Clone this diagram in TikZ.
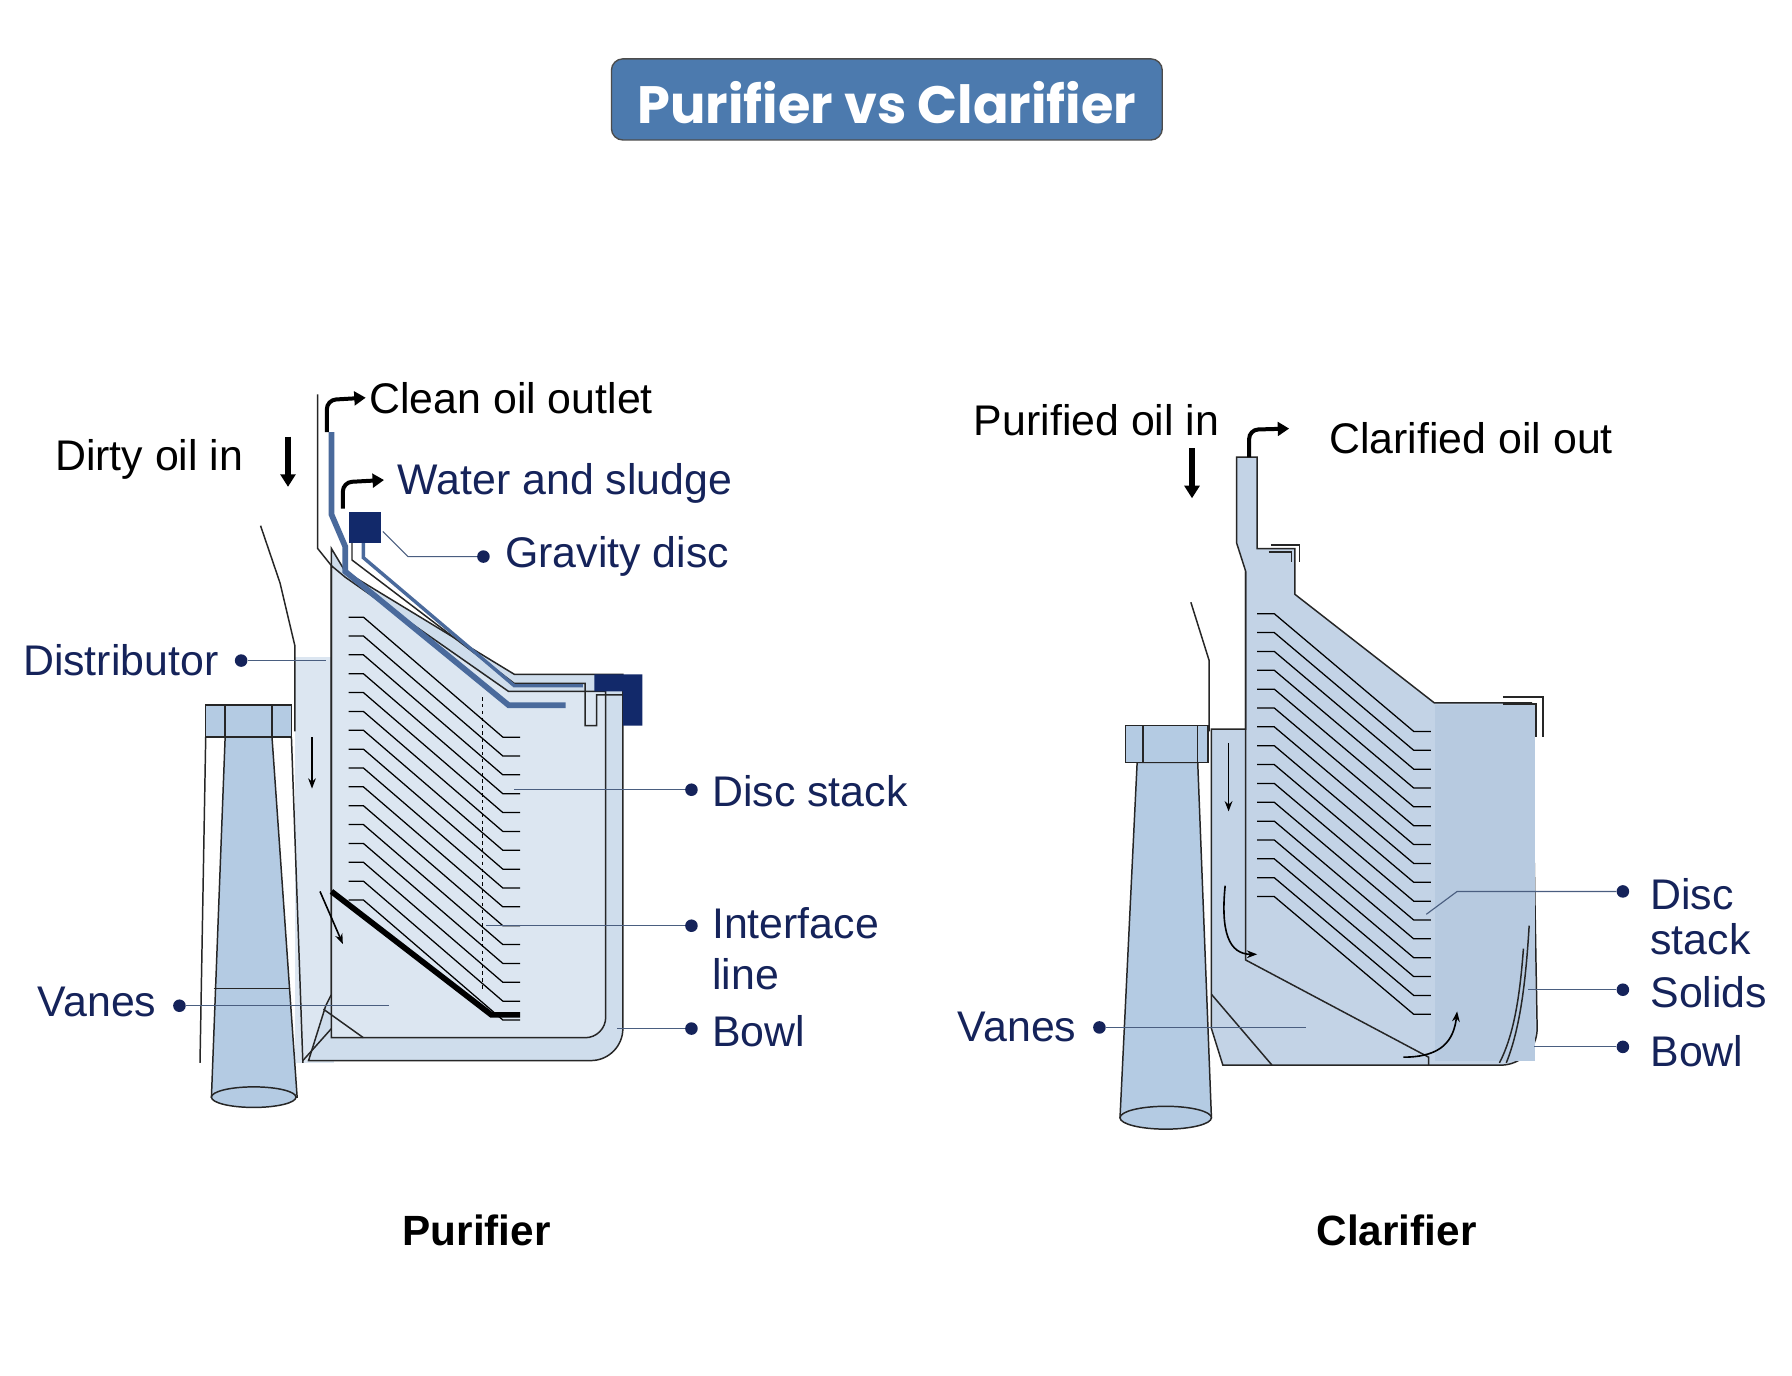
\documentclass[tikz,border=0pt]{standalone}
\usepackage{fontspec}
\setmainfont{Liberation Sans}
\newfontfamily\ttlfont{Poppins}[UprightFont=* Bold]
\usetikzlibrary{arrows.meta}
\definecolor{navy}{HTML}{15235A}
\definecolor{fillA}{HTML}{CFDDEC}
\definecolor{fillB}{HTML}{DCE6F1}
\definecolor{fillC}{HTML}{B4CBE3}
\definecolor{fillD}{HTML}{C3D3E6}
\definecolor{fillE}{HTML}{B7CAE0}
\definecolor{coverblue}{HTML}{4A6A9C}
\definecolor{dnavy}{HTML}{12296A}
\definecolor{titleblue}{HTML}{4C7AAE}
\definecolor{lead}{HTML}{4A5E80}
\begin{document}
\begin{tikzpicture}[x=1pt,y=-1pt,
 lbl/.style={font=\fontsize{37.5}{40}\selectfont,text=navy,anchor=west,inner sep=0},
 blk/.style={font=\fontsize{37.5}{40}\selectfont,text=black,anchor=west,inner sep=0},
 ol/.style={draw=black!85,line width=1.3pt},
 leader/.style={draw=lead,line width=1pt},
 dot/.style={circle,fill=navy,inner sep=0,minimum size=11pt},
 big/.style={-{Triangle[length=11pt,width=13pt]},line width=5pt},
 sm/.style={-{Stealth[length=9pt]},line width=1.4pt},
 curv/.style={-{Triangle[length=10pt,width=12pt]},line width=3.5pt,rounded corners=8pt}]
\useasboundingbox (0,0) rectangle (1568,1204);
\fill[white] (0,0) rectangle (1568,1204);
% title
\node[draw=black!70,fill=titleblue,rounded corners=10pt,minimum width=482pt,minimum height=71pt,line width=1.2pt] (title) at (776,87) {};
\node[font=\fontsize{46}{50}\ttlfont,text=white] (ttext) at (776,90) {Purifier vs Clarifier};
% ===== PURIFIER =====
\fill[fillB] (258,575) rectangle (292,930);
\draw[ol] (228,460) -- (245,510) -- (258,565) -- (258,640);
\draw[ol,fill=fillA] (290,480) -- (302,500) -- (450,590) -- (545,590) -- (545,900) arc(0:90:28) -- (270,928) -- (285,880) -- (290,870) -- cycle;
\draw[ol,fill=fillB] (290,495) -- (302,505) -- (445,605) -- (530,605) -- (530,890) arc(0:90:18) -- (290,908) -- cycle;
\draw[ol] (278,345) -- (278,480) -- (290,495) -- (290,780);
\draw[ol] (308,460) -- (308,490) -- (450,598) -- (512,598) -- (512,635) -- (522,635) -- (522,608) -- (545,608);
\draw[ol] (283,883) -- (318,908);
\draw[ol] (265,928) -- (290,900);
% cover thick blue
\draw[coverblue,line width=5pt] (290,378) -- (290,450) -- (302,478) -- (302,500) -- (445,617) -- (495,617);
\draw[coverblue,line width=3pt] (318,470) -- (318,488) -- (450,600) -- (510,600);
\fill[dnavy] (305,448) rectangle (333,475);
\fill[dnavy] (520,590) -- (562,590) -- (562,635) -- (545,635) -- (545,605) -- (520,605) -- cycle;
% disc stack
\foreach \i in {0,...,15}{
 \draw[black,line width=1.1pt] (305,540+16.5*\i) -- (318,540+16.5*\i) -- (440,645+16.5*\i) -- (455,645+16.5*\i);}
\draw[line width=5pt] (290,780) -- (430,888) -- (455,888);
\draw[dashed,line width=1.1pt] (422,610) -- (422,865);
% cone
\draw[ol] (180,645) -- (175,930);
\draw[ol] (255,645) -- (265,930);
\draw[ol,fill=fillC] (197,645) -- (185,960) -- (260,960) -- (238,645) -- cycle;
\draw[ol] (187,865) -- (254,865);
\draw[ol,fill=fillC] (222,960) ellipse (37 and 9);
\draw[ol,fill=fillC] (180,617) rectangle (255,645);
\draw[ol] (197,617) -- (197,645) (238,617) -- (238,645);
% arrows
\draw[big] (252,382) -- (252,426);
\draw[curv] (286,378) -- (286,350) -- (320,348);
\draw[curv] (300,445) -- (300,422) -- (336,420);
\draw[sm] (273,645) -- (273,690);
\draw[sm] (280,780) -- (300,826);
% leaders
\node[dot] (d1) at (211,578) {}; \draw[leader] (d1) -- (285,578);
\node[dot] (d2) at (423,487) {}; \draw[leader] (d2) -- (357,487) -- (335,465);
\node[dot] (d3) at (605,691) {}; \draw[leader] (d3) -- (450,691);
\node[dot] (d4) at (605,810) {}; \draw[leader] (d4) -- (425,810);
\node[dot] (d5) at (605,900) {}; \draw[leader] (d5) -- (540,900);
\node[dot] (d6) at (157,880) {}; \draw[leader] (d6) -- (340,880);
\node[blk] at (323,348) {Clean oil outlet};
\node[blk] at (48,402) {Dirty oil in};
\node[lbl] at (348,423) {Water and sludge};
\node[lbl] at (442,487) {Gravity disc};
\node[lbl] at (20,578) {Distributor};
\node[lbl] at (623,692) {Disc stack};
\node[lbl] at (623,808) {Interface};
\node[lbl] at (623,852) {line};
\node[lbl] at (623,902) {Bowl};
\node[lbl] at (33,877) {Vanes};
\node[font=\fontsize{37}{40}\selectfont\bfseries] at (417,1077) {Purifier};
% ===== CLARIFIER =====
\draw[ol,fill=fillD] (1082,400) -- (1100,400) -- (1100,480) -- (1133,480) -- (1133,520) -- (1255,615) -- (1340,615) -- (1345,900) arc(0:90:32) -- (1070,932) -- (1060,900) -- (1060,638) -- (1090,638) -- (1090,500) -- (1082,475) -- cycle;
\fill[fillE] (1256,617) rectangle (1343,928);
\draw[ol] (1090,500) -- (1090,840) -- (1250,925) -- (1250,932);
\draw[ol] (1042,527) -- (1058,578) -- (1058,640);
\draw[ol] (1112,477) -- (1137,477) -- (1137,492);
\draw[ol] (1110,483) -- (1130,483) -- (1130,492);
\draw[ol] (1315,610) -- (1350,610) -- (1350,645);
\draw[ol] (1315,616) -- (1344,616) -- (1344,645);
\draw[ol] (1060,870) -- (1113,932);
\draw[ol] (1338,810) .. controls (1335,860) and (1330,900) .. (1318,930);
\draw[ol] (1333,830) .. controls (1330,870) and (1325,905) .. (1312,930);
\foreach \i in {0,...,15}{
 \draw[black,line width=1.1pt] (1100,537+16.5*\i) -- (1115,537+16.5*\i) -- (1237,640+16.5*\i) -- (1252,640+16.5*\i);}
% cone
\draw[ol,fill=fillC] (995,667) -- (980,978) -- (1060,978) -- (1048,667) -- cycle;
\draw[ol,fill=fillC] (1020,978) ellipse (40 and 10);
\draw[ol,fill=fillC] (985,635) rectangle (1057,667);
\draw[ol] (1000,635) -- (1000,667) (1048,635) -- (1048,667);
% arrows
\draw[big] (1043,392) -- (1043,436);
\draw[curv] (1093,400) -- (1093,376) -- (1128,375);
\draw[sm] (1075,650) -- (1075,710);
\draw[sm] (1072,775) .. controls (1068,815) and (1075,835) .. (1100,835);
\draw[sm] (1228,925) .. controls (1262,925) and (1272,910) .. (1275,885);
% leaders
\node[dot] (e1) at (1420,780) {}; \draw[leader] (e1) -- (1275,780) -- (1248,800);
\node[dot] (e2) at (1420,866) {}; \draw[leader] (e2) -- (1337,866);
\node[dot] (e3) at (1420,916) {}; \draw[leader] (e3) -- (1342,916);
\node[dot] (e4) at (962,899) {}; \draw[leader] (e4) -- (1143,899);
\node[blk] at (852,368) {Purified oil in};
\node[blk] at (1163,383) {Clarified oil out};
\node[lbl] at (1444,782) {Disc};
\node[lbl] at (1444,822) {stack};
\node[lbl] at (1444,868) {Solids};
\node[lbl] at (1444,920) {Bowl};
\node[lbl] at (838,899) {Vanes};
\node[font=\fontsize{37}{40}\selectfont\bfseries] at (1222,1077) {Clarifier};
\end{tikzpicture}
\end{document}
